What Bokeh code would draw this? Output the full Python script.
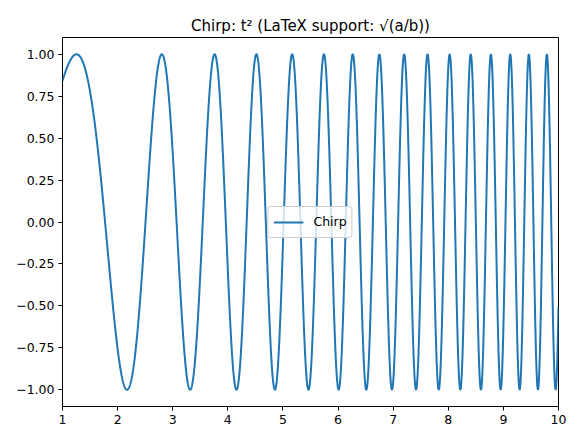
import numpy as np
from bokeh.plotting import figure
from bokeh.models import Range1d, FixedTicker, Legend, LegendItem
from bokeh.embed import file_html
from bokeh.resources import INLINE

# Data: the chart shows the chirp sin(t^2) on t in [1, 10] (as stated in its title)
t_start = 1.0
t_end = 10.0
n_points = 2000
t = np.linspace(t_start, t_end, n_points)
y = np.sin(t ** 2)

x_ticks = [1, 2, 3, 4, 5, 6, 7, 8, 9, 10]
y_ticks = [-1.0, -0.75, -0.5, -0.25, 0.0, 0.25, 0.5, 0.75, 1.0]
y_tick_labels = ["\u22121.00", "\u22120.75", "\u22120.50", "\u22120.25", "0.00", "0.25", "0.50", "0.75", "1.00"]
title_text = "Chirp: t\u00b2 (LaTeX support: \u221a(a/b))"
series_name = "Chirp"

FONT = "DejaVu Sans"

p = figure(width=577, height=440, output_backend="svg", toolbar_location=None,
           x_range=Range1d(1, 10), y_range=Range1d(-1.1, 1.1),
           min_border_left=62, min_border_right=19, min_border_top=37, min_border_bottom=34)
p.title.text = title_text
p.title.align = "center"
p.title.text_font = FONT
p.title.text_font_size = "15px"
p.title.text_font_style = "normal"
p.title.text_color = "black"
p.title.standoff = 6

p.xgrid.visible = False
p.ygrid.visible = False
p.outline_line_color = "black"
p.outline_line_width = 1
p.background_fill_color = "white"
p.border_fill_color = "white"

for ax in (p.xaxis[0], p.yaxis[0]):
    ax.major_label_text_font = FONT
    ax.major_label_text_font_size = "12.5px"
    ax.major_label_text_color = "black"
    ax.axis_line_color = None
    ax.major_tick_line_color = "black"
    ax.major_tick_in = 0
    ax.major_tick_out = 4
    ax.minor_tick_line_color = None
    ax.major_label_standoff = 4

p.xaxis.ticker = FixedTicker(ticks=x_ticks)
p.yaxis.ticker = FixedTicker(ticks=y_ticks)
p.yaxis.major_label_overrides = {v: s for v, s in zip(y_ticks, y_tick_labels)}

r = p.line(t, y, line_color="#1f77b4", line_width=2)

legend = Legend(items=[LegendItem(label=series_name, renderers=[r])], location="center")
legend.label_text_font = FONT
legend.label_text_font_size = "12.5px"
legend.label_text_color = "black"
legend.background_fill_alpha = 0.8
legend.border_line_color = "#cccccc"
legend.border_line_alpha = 1
legend.border_radius = 3
legend.glyph_width = 30
legend.padding = 5
legend.spacing = 0
legend.margin = 0
legend.label_standoff = 10
p.add_layout(legend, "center")

open("out.html", "w").write(file_html(p, INLINE))
